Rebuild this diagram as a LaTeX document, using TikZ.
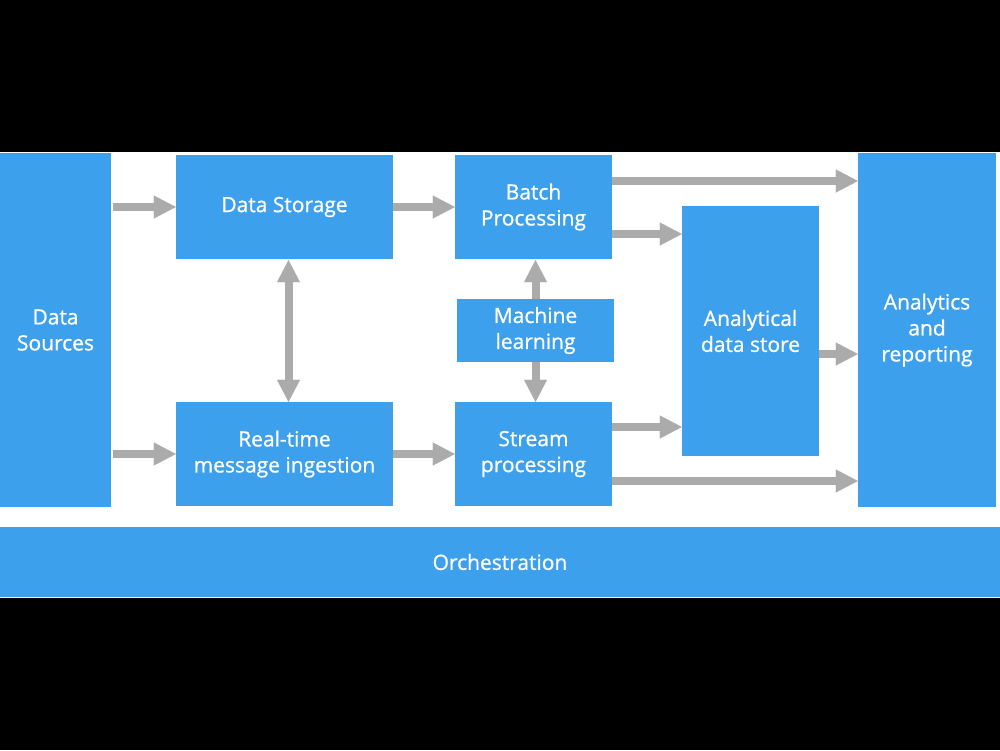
\documentclass[tikz,border=0pt]{standalone}
\usepackage{fontspec}
\setmainfont{Open Sans}
\newfontfamily\boxfont{Open Sans}[FakeBold=0.9]
\usetikzlibrary{arrows.meta}
\definecolor{boxblue}{HTML}{3DA0EC}
\definecolor{arrgray}{HTML}{ABABAB}
\tikzset{
  blk/.style={fill=boxblue, draw=none, text=white, align=center, inner sep=0pt,
    font=\boxfont\fontsize{21}{26}\selectfont},
  arr/.style={draw=arrgray, line width=8pt,
    -{Triangle[width=23pt,length=22pt,line width=0.01pt]}},
  darr/.style={draw=arrgray, line width=8pt,
    {Triangle[width=23pt,length=22pt,line width=0.01pt]}-{Triangle[width=23pt,length=22pt,line width=0.01pt]}},
}
\newcommand{\bx}[6]{% name, x1, y1, x2, y2, text
  \node[blk, minimum width=#4pt-#2pt, minimum height=#5pt-#3pt] (#1) at ({(#2+#4)/2},{(#3+#5)/2}) {#6};}
\begin{document}
\begin{tikzpicture}[x=1pt,y=-1pt]
\fill[black] (0,0) rectangle (1000,750);
\fill[white] (0,152) rectangle (1000,598);
\useasboundingbox (0,0) rectangle (1000,750);
\bx{ds}{0}{153}{111}{507}{Data\\Sources}
\bx{st}{176}{155}{393}{259}{Data Storage}
\bx{bp}{455}{155}{612}{259}{Batch\\Processing}
\bx{ml}{457}{299}{614}{362}{Machine\\learning}
\bx{rt}{176}{402}{393}{506}{Real-time\\message ingestion}
\bx{sp}{455}{402}{612}{506}{Stream\\processing}
\bx{ads}{682}{206}{819}{456}{Analytical\\data store}
\bx{an}{858}{153}{996}{507}{Analytics\\and\\reporting}
\bx{orc}{0}{527}{1000}{597}{Orchestration}
% arrows
\draw[arr] ([xshift=2pt]ds.east |- st.west) -- (st.west);
\draw[arr] (st.east) -- (bp.west);
\draw[arr] ([xshift=2pt]ds.east |- rt.west) -- (rt.west);
\draw[arr] (rt.east) -- (sp.west);
\draw[arr] ([yshift=26pt]bp.east) -- ([yshift=26pt]bp.east -| an.west);
\draw[arr] ([yshift=-27pt]bp.east) -- ([yshift=-27pt]bp.east -| ads.west);
\draw[arr] ([yshift=27pt]sp.east) -- ([yshift=27pt]sp.east -| ads.west);
\draw[arr] ([yshift=-27pt]sp.east) -- ([yshift=-27pt]sp.east -| an.west);
\draw[arr] ([yshift=-23pt]ads.east) -- ([yshift=-23pt]ads.east -| an.west);
\draw[darr] ([xshift=4pt,yshift=-1pt]st.south) -- ([xshift=4pt]st.south |- rt.north);
\draw[arr] ([xshift=2pt]bp.south |- ml.north) -- ([xshift=2pt,yshift=-1pt]bp.south);
\draw[arr] ([xshift=2pt]bp.south |- ml.south) -- ([xshift=2pt]sp.north);
\end{tikzpicture}
\end{document}
